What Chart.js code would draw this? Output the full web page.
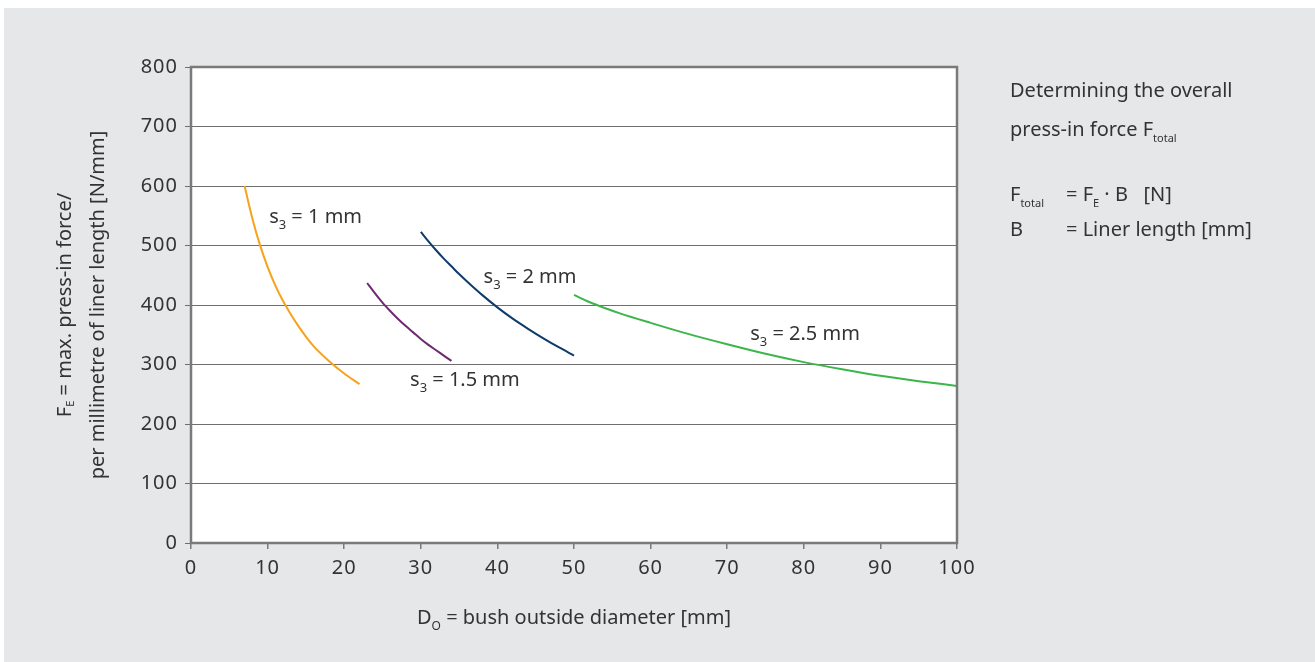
<!DOCTYPE html>
<html>
<head>
<meta charset="utf-8">
<script src="https://cdn.jsdelivr.net/npm/chart.js@4.4.1/dist/chart.umd.min.js"></script>
<style>
    body { margin: 0; background: #ffffff; }
    #panel { position: absolute; left: 4px; top: 8px; width: 1311px; height: 654px; background: #e6e7e8; }
    canvas { display: block; }
</style>
</head>
<body>
<div id="panel"><canvas id="pressChart" width="1311" height="654"></canvas></div>
<script>
// values (x = D0 in mm, y = FE in N/mm)
const s1X = [7, 8, 9, 10, 11, 12, 13, 14, 15, 16, 18, 20, 22];
const s1Y = [600, 546, 501, 464, 433, 407, 385, 365, 347, 331, 306, 285, 267];

const s15X = [23, 24, 25, 26, 27, 28, 29, 30, 31, 32, 33, 34];
const s15Y = [437, 420, 404, 390, 377, 365, 354, 343, 333, 324, 315, 306];

const s2X = [30, 31, 32, 33, 34, 35, 36, 38, 40, 42, 44, 46, 48, 50];
const s2Y = [523, 507, 492, 478, 465, 452, 440, 417, 396, 377, 360, 344, 329, 315];

const s25X = [50, 52, 54, 56, 60, 65, 70, 75, 80, 85, 90, 95, 100];
const s25Y = [417, 405, 395, 386, 370, 351, 334, 318, 304, 292, 281, 272, 264];

const seriesNames = ['1', '1.5', '2', '2.5'];
const seriesColors = ['#f7a21b', '#6e2a70', '#0d3c6b', '#3cb54a'];

const xTicks = [0, 10, 20, 30, 40, 50, 60, 70, 80, 90, 100];
const yTicks = [0, 100, 200, 300, 400, 500, 600, 700, 800];

// label anchors for each curve, in data units
const labelX = [10.2, 28.6, 38.2, 73.0];
const labelY = [538, 264, 437, 341];

const FONT = '"Noto Sans", "Open Sans", sans-serif';
const TEXT_COLOR = '#333333';

function toPoints(xs, ys) {
    return xs.map((x, i) => ({ x: x, y: ys[i] }));
}

// draws text parts, some as subscripts, left aligned or centered on x
function drawRich(ctx, parts, x, y, size, subSize, subOffset, center) {
    let total = 0;
    parts.forEach((p) => {
        ctx.font = `${p.sub ? subSize : size}px ${FONT}`;
        total += ctx.measureText(p.t).width;
    });
    let cx = center ? x - total / 2 : x;
    parts.forEach((p) => {
        ctx.font = `${p.sub ? subSize : size}px ${FONT}`;
        ctx.fillText(p.t, cx, p.sub ? y + subOffset : y);
        cx += ctx.measureText(p.t).width;
    });
}

const framePlugin = {
    id: 'frame',
    beforeDraw(chart) {
        const { ctx, chartArea } = chart;
        ctx.fillStyle = '#ffffff';
        ctx.fillRect(chartArea.left, chartArea.top, chartArea.right - chartArea.left, chartArea.bottom - chartArea.top);
        // a bit wider digits for the tick labels
        ctx.letterSpacing = '1px';
    },
    afterDraw(chart) {
        const { ctx, chartArea, scales } = chart;
        ctx.save();
        ctx.letterSpacing = '0px';
        ctx.strokeStyle = '#7a7a7a';
        ctx.lineWidth = 2.5;
        ctx.strokeRect(chartArea.left, chartArea.top, chartArea.right - chartArea.left, chartArea.bottom - chartArea.top);

        ctx.fillStyle = TEXT_COLOR;
        ctx.textBaseline = 'alphabetic';
        ctx.textAlign = 'left';

        // curve labels
        seriesNames.forEach((name, i) => {
            const px = scales.x.getPixelForValue(labelX[i]);
            const py = scales.y.getPixelForValue(labelY[i]);
            drawRich(ctx, [{ t: 's' }, { t: '3', sub: true }, { t: ' = ' + name + ' mm' }], px, py, 20, 13, 6, false);
        });

        // x axis title
        drawRich(ctx, [{ t: 'D' }, { t: 'O', sub: true }, { t: ' = bush outside diameter [mm]' }],
            (chartArea.left + chartArea.right) / 2, 616, 20, 12, 6, true);

        // y axis title (two lines, rotated)
        const midY = (chartArea.top + chartArea.bottom) / 2;
        ctx.textBaseline = 'middle';
        ctx.save();
        ctx.translate(61, midY);
        ctx.rotate(-Math.PI / 2);
        drawRich(ctx, [{ t: 'F' }, { t: 'E', sub: true }, { t: ' = max. press-in force/' }], 0, 0, 20, 11, 6, true);
        ctx.restore();
        ctx.save();
        ctx.translate(94, midY);
        ctx.rotate(-Math.PI / 2);
        drawRich(ctx, [{ t: 'per millimetre of liner length [N/mm]' }], 0, 0, 20, 11, 6, true);
        ctx.restore();
        ctx.textBaseline = 'alphabetic';

        // note on the right
        drawRich(ctx, [{ t: 'Determining the overall' }], 1006, 89, 20, 11, 6, false);
        drawRich(ctx, [{ t: 'press-in force F' }, { t: 'total', sub: true }], 1006, 128, 20, 11, 6, false);
        drawRich(ctx, [{ t: 'F' }, { t: 'total', sub: true }], 1006, 193, 20, 11, 6, false);
        drawRich(ctx, [{ t: '= F' }, { t: 'E', sub: true }, { t: ' · B   [N]' }], 1062, 193, 20, 11, 6, false);
        drawRich(ctx, [{ t: 'B' }], 1006, 228, 20, 11, 6, false);
        drawRich(ctx, [{ t: '= Liner length [mm]' }], 1062, 228, 20, 11, 6, false);
        ctx.restore();
    }
};

const ctx = document.getElementById('pressChart').getContext('2d');
const datasets = [[s1X, s1Y], [s15X, s15Y], [s2X, s2Y], [s25X, s25Y]].map((d, i) => ({
    label: 's3 = ' + seriesNames[i] + ' mm',
    data: toPoints(d[0], d[1]),
    borderColor: seriesColors[i],
    borderWidth: 2,
    pointRadius: 0,
    cubicInterpolationMode: 'monotone',
    fill: false,
}));

new Chart(ctx, {
    type: 'line',
    data: { datasets: datasets },
    plugins: [framePlugin],
    options: {
        responsive: false,
        animation: false,
        layout: {
            padding: { left: 0, right: 358, top: 59, bottom: 79 }
        },
        plugins: {
            legend: { display: false },
            tooltip: { enabled: false },
        },
        scales: {
            x: {
                type: 'linear',
                min: 0,
                max: 100,
                afterFit: (scale) => { scale.height = 40; },
                afterBuildTicks: (scale) => { scale.ticks = xTicks.map((v) => ({ value: v })); },
                grid: { drawOnChartArea: false, color: '#7a7a7a', tickLength: 6, lineWidth: 1.5 },
                border: { display: false },
                ticks: { color: TEXT_COLOR, font: { family: FONT, size: 20 }, padding: 7 },
            },
            y: {
                type: 'linear',
                min: 0,
                max: 800,
                afterFit: (scale) => { scale.width = 187; },
                afterBuildTicks: (scale) => { scale.ticks = yTicks.map((v) => ({ value: v })); },
                grid: { color: '#6f6f6f', tickLength: 6, lineWidth: 1 },
                border: { display: false },
                ticks: { color: TEXT_COLOR, font: { family: FONT, size: 20 }, padding: 7 },
            },
        },
    },
});
</script>
</body>
</html>
